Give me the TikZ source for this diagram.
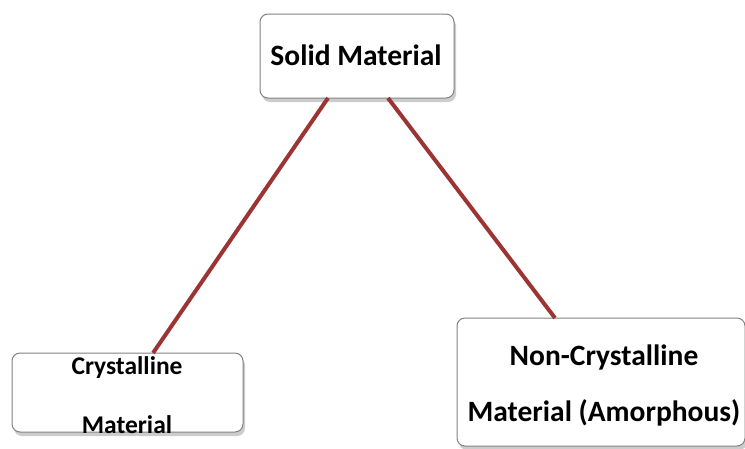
\documentclass[tikz,border=0pt]{standalone}
\usepackage{fontspec}
\setmainfont{Carlito}
\usetikzlibrary{shadows}
\definecolor{linkred}{RGB}{155,52,50}
\definecolor{boxgray}{RGB}{130,130,130}
\tikzset{
  box/.style={draw=boxgray, line width=1pt, rounded corners=8pt, fill=white,
    drop shadow={opacity=0.4, shadow xshift=2pt, shadow yshift=-4pt}},
  lbl/.style={text=black, inner sep=0pt},
  big/.style={lbl, font=\fontsize{29.5}{32}\selectfont\bfseries},
  mid/.style={lbl, font=\fontsize{25.5}{28}\selectfont\bfseries},
  link/.style={draw=linkred, line width=4pt}
}
\begin{document}
\begin{tikzpicture}[x=1pt,y=-1pt]
\useasboundingbox (0,0) rectangle (745,448);
% boxes
\draw[box] (260,14) rectangle (454,98);
\draw[box] (12,353) rectangle (243,432);
\draw[box] (457,318) rectangle (745,446);
% anchor coordinates
\coordinate (s1) at (328,98);
\coordinate (s2) at (388,98);
\coordinate (c1) at (153,353);
\coordinate (n1) at (555,318);
\draw[link] (s1) -- (c1);
\draw[link] (s2) -- (n1);
% text
\node[big] (solid) at (356,55) {Solid Material};
\node[mid] (cry1) at (127,368) {Crystalline};
\node[mid] (cry2) at (127,425) {Material};
\node[big] (non1) at (604,357) {Non-Crystalline};
\node[big] (non2) at (604,413) {Material (Amorphous)};
\end{tikzpicture}
\end{document}
